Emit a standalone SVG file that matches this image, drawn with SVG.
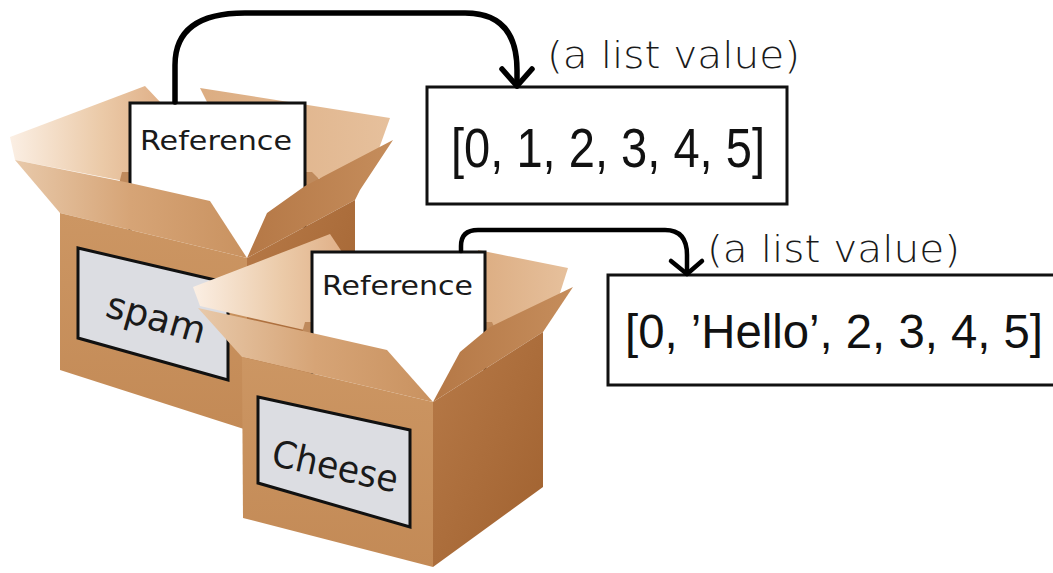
<svg xmlns="http://www.w3.org/2000/svg" width="1053" height="573" viewBox="0 0 1053 573">
  <defs>
    <linearGradient id="gLight" x1="0" y1="0" x2="1" y2="0">
      <stop offset="0" stop-color="#fbefe4"/>
      <stop offset="0.6" stop-color="#ebcaa8"/>
      <stop offset="1" stop-color="#e0b088"/>
    </linearGradient>
    <linearGradient id="gBackR" x1="0" y1="0" x2="1" y2="0">
      <stop offset="0" stop-color="#dcad82"/>
      <stop offset="1" stop-color="#e6c09c"/>
    </linearGradient>
    <linearGradient id="gFrontFlap" x1="0" y1="0" x2="1" y2="0">
      <stop offset="0" stop-color="#e8c9aa"/>
      <stop offset="0.5" stop-color="#d6a476"/>
      <stop offset="1" stop-color="#c99260"/>
    </linearGradient>
    <linearGradient id="gRightFlap" x1="0" y1="0" x2="1" y2="0">
      <stop offset="0" stop-color="#b57846"/>
      <stop offset="1" stop-color="#c58d5c"/>
    </linearGradient>
    <linearGradient id="gFront" x1="0" y1="0" x2="0" y2="1">
      <stop offset="0" stop-color="#cc9663"/>
      <stop offset="1" stop-color="#c38a56"/>
    </linearGradient>
    <linearGradient id="gSide" x1="0" y1="0" x2="1" y2="1">
      <stop offset="0" stop-color="#b77a48"/>
      <stop offset="1" stop-color="#a0612f"/>
    </linearGradient>
  </defs>
  <style>
    .card { fill: #ffffff; stroke: #111; stroke-width: 3; }
    .label { fill: #dcdde2; stroke: #111; stroke-width: 3; stroke-linejoin: miter; }
    .hand { font-family: "DejaVu Sans", "Liberation Sans", sans-serif; fill: #1a1a1a; }
    .note { font-family: "DejaVu Sans", "Liberation Sans", sans-serif; fill: #1a1a1a; font-weight: 300; }
    .val { font-family: "Liberation Sans", Arial, sans-serif; fill: #111; }
    .vbox { fill: #ffffff; stroke: #111; stroke-width: 3; }
    .conn { fill: none; stroke: #000; stroke-width: 5.5; stroke-linecap: round; stroke-linejoin: round; }
    .conn2 { fill: none; stroke: #000; stroke-width: 4.5; stroke-linecap: round; stroke-linejoin: round; }
  </style>
  <rect width="1053" height="573" fill="#ffffff"/>

  <g id="spam-box">
    <polygon points="10,137 145,86 162,104 150,186 15,160" fill="url(#gLight)"/>
    <polygon points="200,88 390,118 372,168 300,182 212,112" fill="url(#gBackR)"/>
    <polygon points="122,172 312,172 330,190 247,258 118,188" fill="#bf8a5c"/>
    <rect class="card" x="130" y="103" width="175" height="160"/>
    <text class="hand" x="140" y="150" font-size="27" textLength="152" lengthAdjust="spacingAndGlyphs">Reference</text>
    <polygon points="15,160 130,183 210,201 247,258 60,213" fill="url(#gFrontFlap)"/>
    <polygon points="393,140 360,190 355,200 247,258 267,213 305,186" fill="url(#gRightFlap)"/>
    <polygon points="60,213 247,258 247,430 60,370" fill="url(#gFront)"/>
    <polygon points="247,258 355,200 355,340 247,430" fill="url(#gSide)"/>
    <polygon class="label" points="78,248 228,283 228,380 78,338"/>
    <text class="hand" x="104" y="316" font-size="37" transform="rotate(16 104 316)">spam</text>
  </g>

  <g id="cheese-box">
    <polygon points="193,287 330,234 342,252 313,332 200,306" fill="url(#gLight)"/>
    <polygon points="478,250 568,268 552,318 486,338" fill="url(#gBackR)"/>
    <polygon points="305,322 492,322 500,340 433,402 300,340" fill="#bf8a5c"/>
    <rect class="card" x="312" y="252" width="173" height="160"/>
    <text class="hand" x="322" y="295" font-size="27" textLength="151" lengthAdjust="spacingAndGlyphs">Reference</text>
    <polygon points="198,308 312,333 387,350 433,402 242,357" fill="url(#gFrontFlap)"/>
    <polygon points="573,287 543,332 433,402 460,352 490,327" fill="url(#gRightFlap)"/>
    <polygon points="242,357 433,402 433,567 243,518" fill="url(#gFront)"/>
    <polygon points="433,402 543,332 543,487 433,567" fill="url(#gSide)"/>
    <polygon class="label" points="258,397 410,430 410,527 258,483"/>
    <text class="hand" x="270" y="465" font-size="37" textLength="128" lengthAdjust="spacingAndGlyphs" transform="rotate(12.5 270 465)">Cheese</text>
  </g>

  <g id="list1">
    <rect class="vbox" x="427" y="87" width="360" height="117"/>
    <text class="val" x="451" y="167" font-size="55" textLength="314" lengthAdjust="spacingAndGlyphs">[0, 1, 2, 3, 4, 5]</text>
  </g>
  <g id="label1">
    <text class="note" x="547" y="68" font-size="38" textLength="253" lengthAdjust="spacingAndGlyphs">(a list value)</text>
  </g>

  <g id="list2">
    <rect class="vbox" x="608" y="275" width="452" height="110"/>
    <text class="val" x="625" y="348" font-size="48" textLength="418" lengthAdjust="spacingAndGlyphs">[0, ’Hello’, 2, 3, 4, 5]</text>
  </g>
  <g id="label2">
    <text class="note" x="707" y="262" font-size="38" textLength="253" lengthAdjust="spacingAndGlyphs">(a list value)</text>
  </g>

  <g id="connectors">
    <path class="conn" d="M175,102 L175,65 Q175,13 245,13 L465,13 Q517,13 517,70 L517,86"/>
    <polyline class="conn" points="502,69 517,86 532,69"/>
    <path class="conn2" d="M461,251 L461,246 Q461,230 478,230 L665,230 Q687,230 687,255 L687,274"/>
    <polyline class="conn2" points="671,261 687,274 702,261"/>
  </g>
</svg>
